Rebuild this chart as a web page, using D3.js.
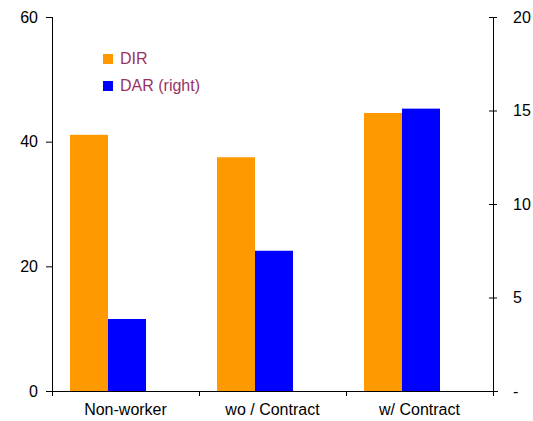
<!DOCTYPE html>
<html>
<head>
<meta charset="utf-8">
<script src="https://cdn.jsdelivr.net/npm/d3@7"></script>
<style>
  body { margin: 0; background: #fff; }
  svg { display: block; font-family: "Liberation Sans", Arial, sans-serif; }
</style>
</head>
<body>
<svg id="chart" width="533" height="421"></svg>
<script>
// data
const categories = ["Non-worker", "wo / Contract", "w/ Contract"];
const dirValues = [41.1, 37.5, 44.6];   // left axis
const darValues = [3.85, 7.5, 15.1];    // right axis
const leftTicks = [0, 20, 40, 60];
const rightTicks = [0, 5, 10, 15, 20];
const seriesNames = ["DIR", "DAR (right)"];
const seriesColors = ["#ff9900", "#0000ff"];

const svg = d3.select("#chart");
const margin = { top: 17, right: 40, bottom: 30, left: 52 };
const width = 533 - margin.left - margin.right;   // 441
const height = 421 - margin.top - margin.bottom;  // 374

const g = svg.append("g").attr("transform", "translate(" + margin.left + "," + margin.top + ")");

const x0 = d3.scaleBand().domain(categories).range([0, width]);
const x1 = d3.scaleBand().domain(seriesNames).range([18, 94]);
const yL = d3.scaleLinear().domain([0, 60]).range([height, 0]);
const yR = d3.scaleLinear().domain([0, 20]).range([height, 0]);

const rows = categories.map(function (c, i) {
    return { cat: c, vals: [
        { key: seriesNames[0], y: yL(dirValues[i]), color: seriesColors[0] },
        { key: seriesNames[1], y: yR(darValues[i]), color: seriesColors[1] }
    ] };
});

g.append("g")
    .selectAll("g")
    .data(rows)
    .enter().append("g")
    .attr("transform", function (d) { return "translate(" + x0(d.cat) + ",0)"; })
    .selectAll("rect")
    .data(function (d) { return d.vals; })
    .enter().append("rect")
    .attr("x", function (d) { return x1(d.key); })
    .attr("y", function (d) { return d.y; })
    .attr("width", x1.bandwidth())
    .attr("height", function (d) { return height - d.y; })
    .attr("fill", function (d) { return d.color; });

// left axis
const left = g.append("g")
    .call(d3.axisLeft(yL).tickValues(leftTicks).tickSize(6).tickPadding(8));
left.select(".domain").attr("d", "M0.5,0V" + (height + 5));

// right axis, ticks cross the line
const right = g.append("g")
    .attr("transform", "translate(" + width + ",0)")
    .call(d3.axisRight(yR).tickValues(rightTicks).tickSize(4).tickPadding(16)
        .tickFormat(function (d) { return d === 0 ? "-" : d; }));
right.selectAll(".tick line").attr("x1", -4);
right.select(".domain").attr("d", "M0.5,0V" + (height + 5));

// bottom axis
const bottom = g.append("g").attr("transform", "translate(0," + height + ")");
bottom.append("line")
    .attr("x1", -6).attr("x2", width + 5)
    .attr("y1", 0.5).attr("y2", 0.5)
    .attr("stroke", "#000");
bottom.selectAll("line.sep")
    .data(categories.concat(["end"]))
    .enter().append("line")
    .attr("class", "sep")
    .attr("x1", function (d) { return d === "end" ? width + 0.5 : x0(d) + 0.5; })
    .attr("x2", function (d) { return d === "end" ? width + 0.5 : x0(d) + 0.5; })
    .attr("y1", 0).attr("y2", 5)
    .attr("stroke", "#000");
bottom.selectAll("text")
    .data(categories)
    .enter().append("text")
    .attr("x", function (d) { return x0(d) + x0.bandwidth() / 2; })
    .attr("y", 24)
    .attr("text-anchor", "middle")
    .attr("font-size", 16)
    .attr("fill", "#000")
    .text(function (d) { return d; });

svg.selectAll(".tick text").attr("font-size", 16).attr("fill", "#000")
    .attr("font-family", "Liberation Sans, Arial, sans-serif");
svg.selectAll(".tick line, .domain").attr("stroke", "#000");

// legend
const legend = svg.append("g")
    .selectAll("g")
    .data(seriesNames)
    .enter().append("g")
    .attr("transform", function (d, i) { return "translate(103," + (54 + i * 27) + ")"; });
legend.append("rect")
    .attr("width", 10).attr("height", 10)
    .attr("fill", function (d, i) { return seriesColors[i]; });
legend.append("text")
    .attr("x", 17).attr("y", 10)
    .attr("font-size", 16)
    .attr("fill", "#993366")
    .text(function (d) { return d; });
</script>
</body>
</html>
